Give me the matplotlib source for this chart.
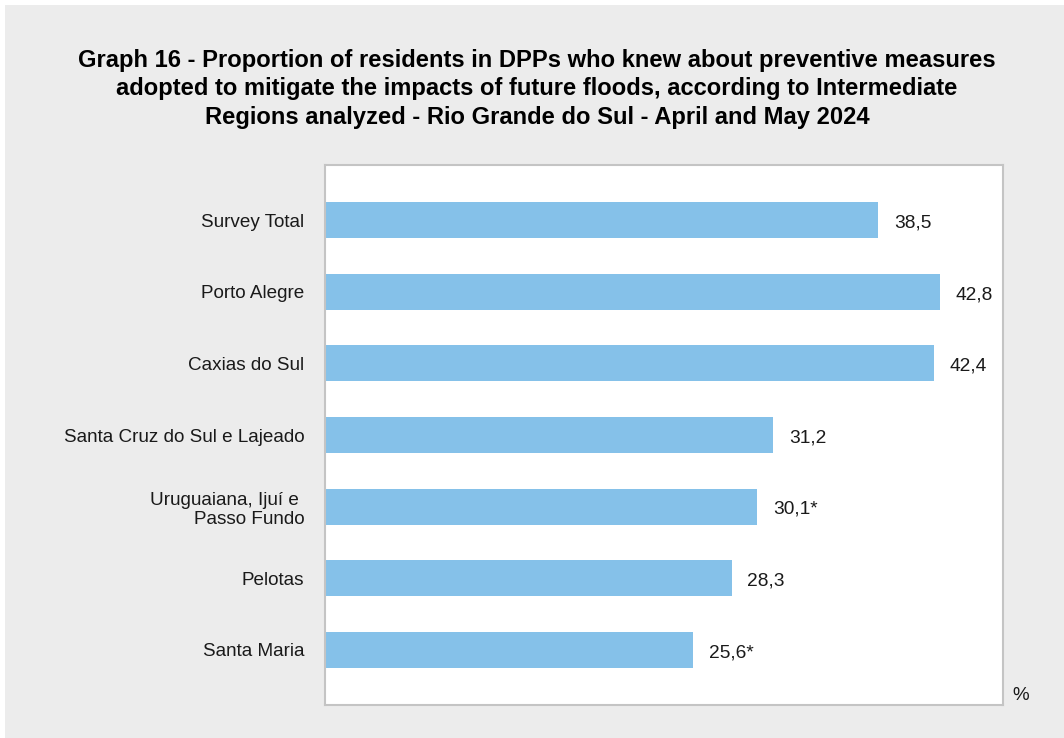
import matplotlib.pyplot as plt
from matplotlib.patches import Rectangle

regions = ['Survey Total', 'Porto Alegre', 'Caxias do Sul', 'Santa Cruz do Sul e Lajeado',
           'Uruguaiana, Ijuí e \nPasso Fundo', 'Pelotas', 'Santa Maria']
values = [38.5, 42.8, 42.4, 31.2, 30.1, 28.3, 25.6]
labels = ['38,5', '42,8', '42,4', '31,2', '30,1*', '28,3', '25,6*']

plt.rcParams['font.family'] = ['Liberation Sans', 'DejaVu Sans']

fig = plt.figure(figsize=(10.64, 7.38), dpi=100)
fig.patch.set_facecolor('white')
# gray panel behind everything
fig.patches.append(Rectangle((5 / 1064, 0), 1 - 5 / 1064, 1 - 5 / 738, transform=fig.transFigure,
                             facecolor='#ececec', edgecolor='none', zorder=-10))

ax = fig.add_axes([325 / 1064, 1 - 705 / 738, (1003 - 325) / 1064, (705 - 165) / 738])
ax.set_facecolor('white')

y = range(len(regions))
ax.barh(y, values, height=0.5, color='#85c1e9', edgecolor='none')
for yi, v, t in zip(y, values, labels):
    ax.text(v + 1.1, yi + 0.04, t, va='center', ha='left', fontsize=13.8, color='#1a1a1a')

ax.set_xlim(0, 47.2)
ax.set_ylim(6.77, -0.77)
ax.set_yticks(list(y))
ax.set_yticklabels(regions, fontsize=13.6, color='#1a1a1a', linespacing=1.15)
ax.tick_params(axis='y', length=0, pad=15)
ax.set_xticks([])
for s in ax.spines.values():
    s.set_color('#c4c4c4')
    s.set_linewidth(1.5)

fig.text(1021 / 1064, 1 - 696 / 738, '%', ha='center', va='center', fontsize=13.5, color='#1a1a1a')

fig.text(537 / 1064, 1 - 89 / 738,
         'Graph 16 - Proportion of residents in DPPs who knew about preventive measures\n'
         'adopted to mitigate the impacts of future floods, according to Intermediate\n'
         'Regions analyzed - Rio Grande do Sul - April and May 2024',
         ha='center', va='center', fontsize=17.1, fontweight='bold', color='black', linespacing=1.33)

fig.savefig('out.png', dpi=100)
